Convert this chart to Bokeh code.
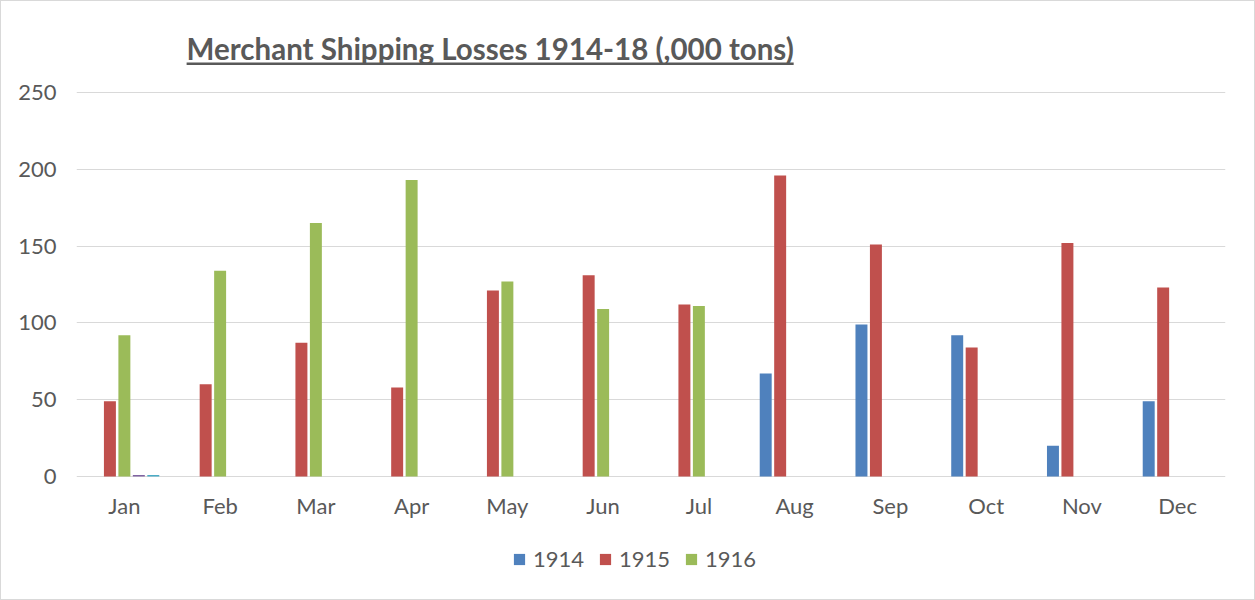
from bokeh.plotting import figure
from bokeh.models import ColumnDataSource, FactorRange, Range1d, Legend, LegendItem, Label, BoxAnnotation, FixedTicker
from bokeh.core.properties import value
from bokeh.transform import dodge
from bokeh.embed import file_html
from bokeh.resources import INLINE

months = ["Jan", "Feb", "Mar", "Apr", "May", "Jun", "Jul", "Aug", "Sep", "Oct", "Nov", "Dec"]
s1914 = [0, 0, 0, 0, 0, 0, 0, 67, 99, 92, 20, 49]
s1915 = [49, 60, 87, 58, 121, 131, 112, 196, 151, 84, 152, 123]
s1916 = [92, 134, 165, 193, 127, 109, 111, 0, 0, 0, 0, 0]
s1917 = [1, 0, 0, 0, 0, 0, 0, 0, 0, 0, 0, 0]
s1918 = [1, 0, 0, 0, 0, 0, 0, 0, 0, 0, 0, 0]
series_names = ["1914", "1915", "1916", "1917", "1918"]
colors = ["#4F81BD", "#C0504D", "#9BBB59", "#8064A2", "#4BACC6"]
y_ticks = [0, 50, 100, 150, 200, 250]
title_text = "Merchant Shipping Losses 1914-18 (,000 tons)"

src = ColumnDataSource(dict(month=months, s1914=s1914, s1915=s1915, s1916=s1916, s1917=s1917, s1918=s1918,
                            base=[0] * len(months)))

FONT = "Lato"
TXT = "#595959"

# the frame spans the whole chart box so that title, month labels and legend live inside it
p = figure(x_range=FactorRange(*months), y_range=Range1d(-80.1, 293.6), output_backend="svg",
           toolbar_location=None, frame_width=1149, frame_height=574, min_border_left=75,
           min_border_right=29, min_border_top=24, min_border_bottom=0)
p.styles = {"border": "1px solid #D9D9D9"}

slot = 0.151
renderers = []
for i, (name, col) in enumerate(zip(series_names, colors)):
    r = p.vbar(x=dodge("month", (i - 2) * slot, range=p.x_range), top="s" + name, width=0.125,
               source=src, fill_color=col, line_color=None)
    renderers.append(r)

# month labels under the zero line
p.text(x="month", y="base", text="month", source=src, text_font=value(FONT), text_font_size="22px",
       text_color=TXT, text_align="center", text_baseline="alphabetic", y_offset=29)

p.xaxis.visible = False
p.yaxis.ticker = FixedTicker(ticks=y_ticks)
p.ygrid.grid_line_color = "#D9D9D9"
p.ygrid.grid_line_width = 1
p.xgrid.grid_line_color = None
p.outline_line_color = None
p.yaxis.axis_line_color = None
p.yaxis.major_tick_line_color = None
p.yaxis.minor_tick_line_color = None
p.yaxis.major_label_text_font = FONT
p.yaxis.major_label_text_font_size = "22px"
p.yaxis.major_label_text_color = TXT
p.yaxis.major_tick_out = 0
p.yaxis.major_tick_in = 0
p.yaxis.major_label_standoff = 20

legend = Legend(items=[LegendItem(label=series_names[i], renderers=[renderers[i]]) for i in range(3)],
                orientation="horizontal", location=(436, 27), border_line_color=None,
                background_fill_alpha=0,
                label_text_font=FONT, label_text_font_size="22px", label_text_color=TXT,
                glyph_width=14, glyph_height=14, spacing=14, label_standoff=7, padding=0, margin=0)
p.add_layout(legend, "center")

title = Label(x=1.15, y=278.5, text=title_text,
              text_font=FONT, text_font_style="bold", text_font_size="29.5px", text_color=TXT,
              text_baseline="alphabetic", text_align="left")
p.add_layout(title)
ul = BoxAnnotation(left=1.15, right=7.49, bottom=267.9, top=269.5, fill_color=TXT, fill_alpha=1,
                   line_color=None)
p.add_layout(ul)

open("out.html", "w").write(file_html(p, INLINE))
